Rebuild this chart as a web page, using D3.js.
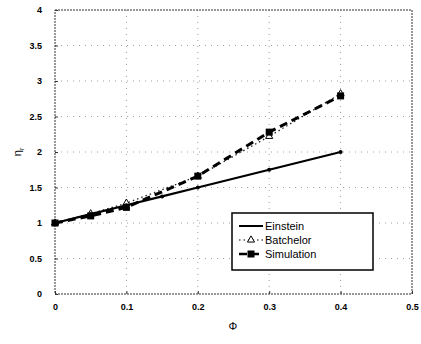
<!DOCTYPE html>
<html><head><meta charset="utf-8">
<script src="https://cdn.jsdelivr.net/npm/d3@7"></script>
<style>body{margin:0;background:#fff}svg{font-family:"Liberation Sans",Arial,sans-serif}</style>
</head><body><svg id="c" width="421" height="344"></svg>
<script>
const xTicks = [0, 0.1, 0.2, 0.3, 0.4, 0.5];
const yTicks = [0, 0.5, 1, 1.5, 2, 2.5, 3, 3.5, 4];
const yTickLabels = ["0", "0.5", "1", "1.5", "2", "2.5", "3", "3.5", "4"];
const einsteinX = [0, 0.05, 0.1, 0.15, 0.2, 0.3, 0.4];
const einsteinY = [1, 1.125, 1.25, 1.375, 1.5, 1.75, 2.0];
const batchelorX = [0, 0.05, 0.1, 0.2, 0.3, 0.4];
const batchelorY = [1, 1.13, 1.28, 1.66, 2.22, 2.82];
const simX = [0, 0.05, 0.1, 0.2, 0.3, 0.4];
const simY = [1, 1.1, 1.22, 1.66, 2.28, 2.79];
const legendLabels = ["Einstein", "Batchelor", "Simulation"];

const svg = d3.select("#c");
const L = 55, R = 412, T = 10, B = 294;
const x = d3.scaleLinear().domain([0, 0.5]).range([L, R]);
const y = d3.scaleLinear().domain([0, 4]).range([B, T]);

// grid
const g = svg.append("g");
g.selectAll(".gx").data(xTicks.slice(1, -1)).join("line")
  .attr("x1", d => x(d)).attr("x2", d => x(d)).attr("y1", T).attr("y2", B)
  .attr("stroke", "#888").attr("stroke-width", 0.8).attr("stroke-dasharray", "1,5");
g.selectAll(".gy").data(yTicks.slice(1, -1)).join("line")
  .attr("y1", d => y(d)).attr("y2", d => y(d)).attr("x1", L).attr("x2", R)
  .attr("stroke", "#888").attr("stroke-width", 0.8).attr("stroke-dasharray", "1,5");

// box
svg.append("rect").attr("x", L).attr("y", T).attr("width", R - L).attr("height", B - T)
  .attr("fill", "none").attr("stroke", "#333").attr("stroke-width", 1).attr("stroke-dasharray", "2,1");

// axes
const xa = svg.append("g").attr("transform", `translate(0,${B})`)
  .call(d3.axisBottom(x).tickValues(xTicks).tickSize(-3).tickPadding(10).tickFormat(d3.format("")));
const ya = svg.append("g").attr("transform", `translate(${L},0)`)
  .call(d3.axisLeft(y).tickValues(yTicks).tickSize(-3).tickPadding(13).tickFormat((d, i) => yTickLabels[i]));
[xa, ya].forEach(a => {
  a.select(".domain").remove();
  a.selectAll("line").attr("stroke", "#333");
  a.selectAll("text").attr("font-size", 9).attr("font-weight", "bold").attr("fill", "#000");
});

const line = d3.line().x(d => x(d[0])).y(d => y(d[1]));
const ein = einsteinX.map((v, i) => [v, einsteinY[i]]);
const bat = batchelorX.map((v, i) => [v, batchelorY[i]]);
const sim = simX.map((v, i) => [v, simY[i]]);

svg.append("path").datum(bat).attr("d", line).attr("fill", "none")
  .attr("stroke", "#222").attr("stroke-width", 1.3).attr("stroke-dasharray", "1.5,3");
svg.append("path").datum(ein).attr("d", line).attr("fill", "none")
  .attr("stroke", "#000").attr("stroke-width", 2.2);
svg.append("path").datum(sim).attr("d", line).attr("fill", "none")
  .attr("stroke", "#000").attr("stroke-width", 3).attr("stroke-dasharray", "8,5");

const tri = d3.symbol().type(d3.symbolTriangle).size(22);
svg.selectAll(".bt").data(bat).join("path").attr("d", tri)
  .attr("transform", d => `translate(${x(d[0])},${y(d[1])})`).attr("fill", "#fff").attr("stroke", "#000");
svg.selectAll(".sm").data(sim).join("rect")
  .attr("x", d => x(d[0]) - 3.5).attr("y", d => y(d[1]) - 3.5).attr("width", 7).attr("height", 7).attr("fill", "#000");
svg.selectAll(".en").data(ein).join("circle")
  .attr("cx", d => x(d[0])).attr("cy", d => y(d[1])).attr("r", 2).attr("fill", "#000");

// legend
const lg = svg.append("g");
lg.append("rect").attr("x", 232).attr("y", 213).attr("width", 141).attr("height", 57)
  .attr("fill", "#fff").attr("stroke", "#000").attr("stroke-width", 1.5);
const ly = [226, 240, 254];
legendLabels.forEach((lab, i) => {
  const l = lg.append("line").attr("x1", 239).attr("x2", 263).attr("y1", ly[i]).attr("y2", ly[i]).attr("stroke", "#000");
  if (i === 0) l.attr("stroke-width", 2);
  if (i === 1) { l.attr("stroke-width", 1.2).attr("stroke-dasharray", "1.5,3");
    lg.append("path").attr("d", tri).attr("transform", `translate(251,${ly[i]})`).attr("fill", "#fff").attr("stroke", "#000"); }
  if (i === 2) { l.attr("stroke-width", 2.5).attr("stroke-dasharray", "8,4");
    lg.append("rect").attr("x", 247.5).attr("y", ly[i] - 3.5).attr("width", 7).attr("height", 7); }
  lg.append("text").attr("x", 265).attr("y", ly[i] + 4).attr("font-size", 11).text(lab);
});

// axis labels
svg.append("text").attr("x", 233).attr("y", 330).attr("text-anchor", "middle").attr("font-size", 11).text("Φ");
svg.append("text").attr("transform", "translate(21,152) rotate(-90)").attr("text-anchor", "middle")
  .attr("font-size", 11).html('η<tspan font-size="7" dy="3">r</tspan>');
</script></body></html>
